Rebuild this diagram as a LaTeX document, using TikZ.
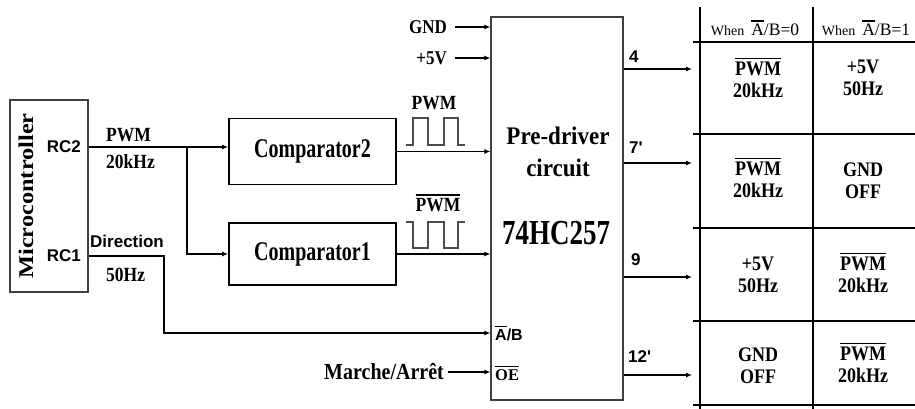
\documentclass[tikz,border=0pt]{standalone}
\usepackage{fontspec}
\setmainfont{Liberation Serif}
\newfontfamily\arialfont{Liberation Sans}
\usepackage{graphicx}
\usetikzlibrary{arrows.meta, positioning, calc}

\newcommand{\fsz}[1]{\fontsize{#1}{#1}\selectfont}
\newcommand{\tallbox}[2][1.15]{\scalebox{1}[#1]{#2}}
\newcommand{\ovl}[1]{\leavevmode\vbox{\hrule height 1.2pt\kern 2.2pt\hbox{#1}}}
\newcommand{\twoline}[2]{\tallbox{\begin{tabular}{@{}c@{}}#1\\#2\end{tabular}}}

\begin{document}
\begin{tikzpicture}[x=1pt, y=-1pt,
    box/.style={rectangle, draw, line width=1.8pt, minimum width=167pt,
                minimum height=66pt, inner sep=0pt, font=\bfseries\fsz{20}},
    chip/.style={rectangle, draw=black!75, line width=1.2pt, inner sep=0pt},
    lbl/.style={inner sep=1pt, font=\bfseries\fsz{17.5}},
    pin/.style={inner sep=1pt, font=\arialfont\bfseries\fsz{17}},
    cell/.style={inner sep=0pt, font=\bfseries\fontsize{18}{19}\selectfont},
    head/.style={inner sep=0pt},
    arr/.style={-{Latex[length=6pt,width=5pt]}, line width=1.1pt},
    wave/.style={line width=1.1pt, black!70},
    grid/.style={line width=1.6pt}
  ]
  \useasboundingbox (0,0) rectangle (915,409);

  % microcontroller
  \node[chip, minimum width=78pt, minimum height=192pt] (mcu) at (49,196) {};
  \node[rotate=90, inner sep=0pt, font=\bfseries\fsz{21}] (mcutxt) at (26,196)
    {\scalebox{1.16}[1]{Microcontroller}};
  \node[pin, anchor=east] (rc2) at (82,147) {RC2};
  \node[pin, anchor=east] (rc1) at (82,256) {RC1};
  \node[lbl, anchor=west] (pwmlbl) at (105,135) {\tallbox{PWM}};
  \node[lbl, anchor=west] (f20) at (105,162) {\tallbox{20kHz}};
  \node[pin, anchor=west] (dirlbl) at (89,241.5) {Direction};
  \node[lbl, anchor=west] (f50) at (105,275) {\tallbox{50Hz}};

  % comparators
  \node[box] (comp2) at (312.5,151.5) {\tallbox[1.35]{Comparator2}};
  \node[box, minimum height=62pt] (comp1) at (312.5,254) {\tallbox[1.35]{Comparator1}};

  % pre-driver
  \node[chip, minimum width=132pt, minimum height=383pt] (drv) at (557,208.5) {};
  \node[inner sep=0pt, font=\bfseries\fontsize{23}{29}\selectfont] (drvtxt) at (558,154)
    {\tallbox[1.1]{\begin{tabular}{@{}c@{}}Pre-driver\\circuit\end{tabular}}};
  \node[inner sep=0pt, font=\bfseries\fsz{27}] (part) at (556,233) {\tallbox[1.3]{74HC257}};
  \node[pin, anchor=west, font=\arialfont\bfseries\fsz{16}] (abin) at (494,333) {\ovl{A}/B};
  \node[lbl, anchor=west, font=\bfseries\fsz{16.5}] (oein) at (494,373) {\ovl{OE}};

  % supply and enable inputs
  \node[lbl, anchor=east, font=\bfseries\fsz{17}] (gnd) at (448,27) {\tallbox{GND}};
  \node[lbl, anchor=east, font=\bfseries\fsz{17}] (vcc) at (448,58) {\tallbox{+5V}};
  \node[lbl, anchor=east, font=\bfseries\fsz{20}] (onoff) at (445,372) {\tallbox{Marche/Arrêt}};

  \coordinate (split) at (187,148);
  \coordinate (dirbend) at (164,256);
  \draw[arr] (mcu.east |- rc2) -- (comp2.west |- rc2);
  \draw[arr] (split) |- (comp1.west);
  \draw[arr] (mcu.east |- rc1) -- (dirbend) |- (drv.west |- abin);
  \draw[arr] (comp2.east) -- (drv.west |- comp2.east);
  \draw[arr] (comp1.east) -- (drv.west |- comp1.east);
  \draw[arr, shorten <=7pt] (gnd) -- (drv.west |- gnd);
  \draw[arr, shorten <=7pt] (vcc) -- (drv.west |- vcc);
  \draw[arr, shorten <=3pt] (onoff) -- (drv.west |- onoff);

  % waveforms
  \node[lbl] (pwm2) at (434,103) {\tallbox{PWM}};
  \node[lbl] (pwm1) at (438,203) {\tallbox{\ovl{PWM}}};
  \draw[wave] (406,145) -- ++(7,0) -- ++(0,-27) -- ++(15,0) -- ++(0,27) -- ++(16,0)
    -- ++(0,-27) -- ++(14,0) -- ++(0,27) -- ++(7,0);
  \draw[wave] (406,222) -- ++(7,0) -- ++(0,26) -- ++(15,0) -- ++(0,-26) -- ++(16,0)
    -- ++(0,26) -- ++(14,0) -- ++(0,-26) -- ++(7,0);

  % outputs
  \coordinate (o4) at (692,69);
  \coordinate (o7) at (692,163);
  \coordinate (o9) at (692,277);
  \coordinate (o12) at (692,375);
  \draw[arr] (drv.east |- o4) -- (o4)
    node[pin, pos=0, anchor=south west, xshift=4pt, yshift=5pt] {4};
  \draw[arr] (drv.east |- o7) -- (o7)
    node[pin, pos=0, anchor=south west, xshift=4pt, yshift=8pt] {7'};
  \draw[arr] (drv.east |- o9) -- (o9)
    node[pin, pos=0, anchor=south west, xshift=6pt, yshift=10pt] {9};
  \draw[arr] (drv.east |- o12) -- (o12)
    node[pin, pos=0, anchor=south west, xshift=3pt, yshift=11pt] {12'};

  % truth table
  \draw[grid] (700,7) -- (700,409);
  \draw[grid] (813,7) -- (813,409);
  \foreach \y in {42,134,228,321,405}
    \draw[grid] (693,\y) -- (915,\y);
  \node[head] (h0) at (755,28) {\fsz{14}When\hspace{7pt}\fsz{17.5}\ovl{A}/B=0};
  \node[head] (h1) at (866,28) {\fsz{14}When\hspace{7pt}\fsz{17.5}\ovl{A}/B=1};
  \node[cell] (r1a) at (758,81) {\twoline{\ovl{PWM}}{20kHz}};
  \node[cell] (r1b) at (863,80) {\twoline{+5V}{50Hz}};
  \node[cell] (r2a) at (758,181) {\twoline{\ovl{PWM}}{20kHz}};
  \node[cell] (r2b) at (863,183) {\twoline{GND}{OFF}};
  \node[cell] (r3a) at (758,277) {\twoline{+5V}{50Hz}};
  \node[cell] (r3b) at (863,276) {\twoline{\ovl{PWM}}{20kHz}};
  \node[cell] (r4a) at (758,368) {\twoline{GND}{OFF}};
  \node[cell] (r4b) at (863,366) {\twoline{\ovl{PWM}}{20kHz}};
\end{tikzpicture}
\end{document}
